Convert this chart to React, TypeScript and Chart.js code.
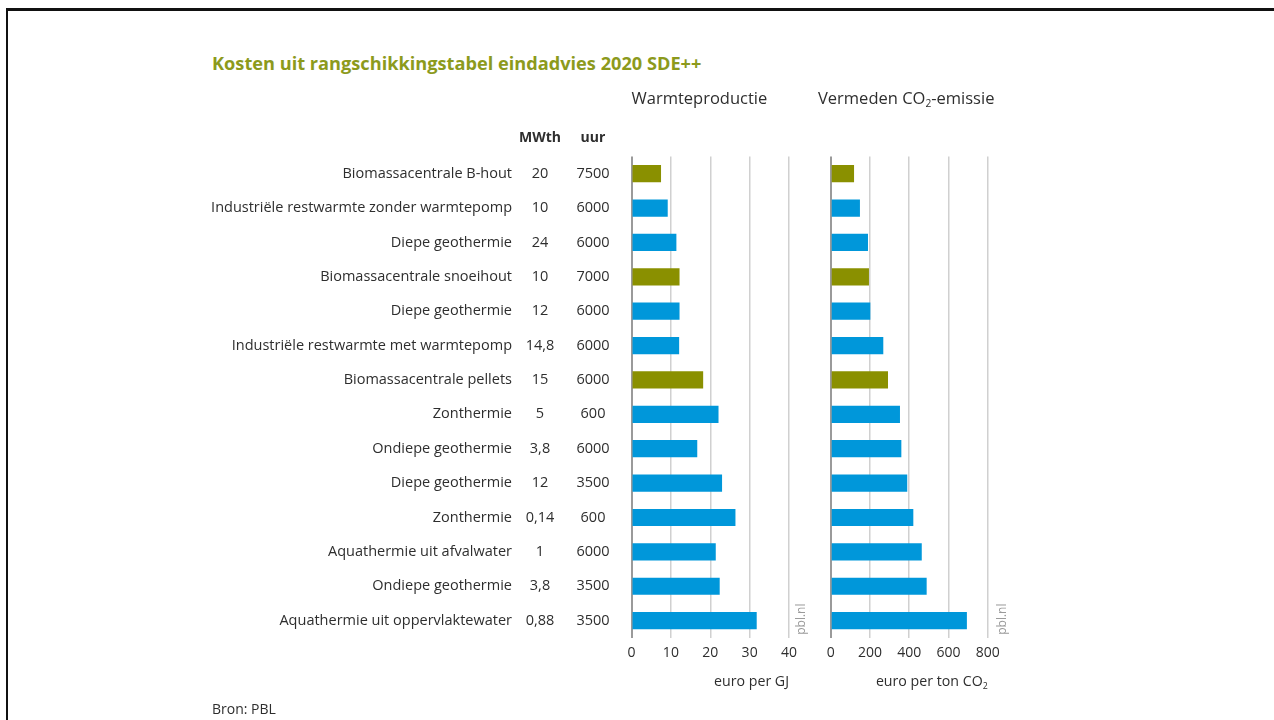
import React, { useEffect, useRef } from "react";
import { Chart, registerables } from "chart.js";
Chart.register(...registerables);

const FONT = "'Open Sans', sans-serif";
const TEXT = "#2e2e2e";
const BLUE = "#0097da";
const OLIVE = "#8a9000";

const categories = [
  "Biomassacentrale B-hout",
  "Industriële restwarmte zonder warmtepomp",
  "Diepe geothermie",
  "Biomassacentrale snoeihout",
  "Diepe geothermie",
  "Industriële restwarmte met warmtepomp",
  "Biomassacentrale pellets",
  "Zonthermie",
  "Ondiepe geothermie",
  "Diepe geothermie",
  "Zonthermie",
  "Aquathermie uit afvalwater",
  "Ondiepe geothermie",
  "Aquathermie uit oppervlaktewater",
];
const mwth = ["20", "10", "24", "10", "12", "14,8", "15", "5", "3,8", "12", "0,14", "1", "3,8", "0,88"];
const uur = ["7500", "6000", "6000", "7000", "6000", "6000", "6000", "600", "6000", "3500", "600", "6000", "3500", "3500"];
const biomassa = [true, false, false, true, false, false, true, false, false, false, false, false, false, false];
const warmteKosten = [7.5, 9.2, 11.4, 12.2, 12.2, 12.1, 18.2, 22.1, 16.7, 23.0, 26.4, 21.4, 22.4, 31.8];
const co2Kosten = [119, 149, 190, 195, 202, 268, 292, 353, 360, 390, 421, 464, 489, 694];
const warmteTicks = { max: 40, step: 10 };
const co2Ticks = { max: 800, step: 200 };

type Part = { text: string; sub?: boolean };

function drawRich(ctx: CanvasRenderingContext2D, parts: Part[], x: number, y: number, size: number, align: "left" | "right") {
  const widths = parts.map((p) => {
    ctx.font = `${p.sub ? size * 0.62 : size}px ${FONT}`;
    return ctx.measureText(p.text).width;
  });
  const total = widths.reduce((a, b) => a + b, 0);
  let cx = align === "left" ? x : x - total;
  ctx.textAlign = "left";
  ctx.textBaseline = "middle";
  parts.forEach((p, i) => {
    ctx.font = `${p.sub ? size * 0.62 : size}px ${FONT}`;
    ctx.fillText(p.text, cx, p.sub ? y + size * 0.3 : y);
    cx += widths[i];
  });
}

function makePlugin(opts: {
  header: Part[];
  headerDx: number;
  axisTitle: Part[];
  pblDx: number;
  table: boolean;
}) {
  return {
    id: "decor",
    afterDraw(chart: any) {
      const ctx: CanvasRenderingContext2D = chart.ctx;
      const area = chart.chartArea;
      const ys = chart.scales.y;
      ctx.save();
      ctx.fillStyle = TEXT;
      drawRich(ctx, opts.header, area.left + opts.headerDx, area.top - 57.5, 16.5, "left");
      drawRich(ctx, opts.axisTitle, area.right, area.bottom + 44.5, 14.2, "right");
      if (opts.table) {
        ctx.textBaseline = "middle";
        ctx.font = `bold 14px ${FONT}`;
        ctx.textAlign = "center";
        ctx.fillText("MWth", area.left - 91.5, area.top - 18.5);
        ctx.fillText("uur", area.left - 38.5, area.top - 18.5);
        ctx.font = `14.5px ${FONT}`;
        categories.forEach((c, i) => {
          const y = ys.getPixelForValue(i);
          ctx.textAlign = "right";
          ctx.fillText(c, area.left - 119.5, y);
          ctx.textAlign = "center";
          ctx.fillText(mwth[i], area.left - 91.5, y);
          ctx.fillText(uur[i], area.left - 38.5, y);
        });
      }
      ctx.translate(area.right + opts.pblDx, area.bottom - 3);
      ctx.rotate(-Math.PI / 2);
      ctx.fillStyle = "#9a9a9a";
      ctx.font = `12px ${FONT}`;
      ctx.textAlign = "left";
      ctx.textBaseline = "middle";
      ctx.fillText("pbl.nl", 0, 0);
      ctx.restore();
    },
  };
}

function makeConfig(values: number[], ticks: { max: number; step: number }, padLeft: number, padRight: number, plugin: any): any {
  return {
    type: "bar",
    data: {
      labels: categories,
      datasets: [
        {
          data: values,
          backgroundColor: biomassa.map((b) => (b ? OLIVE : BLUE)),
          borderWidth: 0,
          barPercentage: 0.5,
          categoryPercentage: 1,
        },
      ],
    },
    options: {
      indexAxis: "y",
      animation: false,
      responsive: false,
      maintainAspectRatio: false,
      layout: { padding: { left: padLeft, right: padRight, top: 76.5, bottom: 0 } },
      plugins: { legend: { display: false }, tooltip: { enabled: false }, title: { display: false } },
      scales: {
        x: {
          min: 0,
          max: ticks.max,
          ticks: { stepSize: ticks.step, padding: 7, color: TEXT, font: { family: FONT, size: 14 } },
          grid: {
            drawTicks: false,
            color: (c: any) => (c.tick && c.tick.value === 0 ? "#9a9a9a" : "#d0d0d0"),
            lineWidth: (c: any) => (c.tick && c.tick.value === 0 ? 2 : 1.5),
          },
          border: { display: false },
          afterFit: (s: any) => {
            s.height = 62.2;
          },
        },
        y: { display: false },
      },
    },
    plugins: [plugin],
  };
}

function ChartCanvas(props: { config: () => any; left: number; width: number }) {
  const ref = useRef<HTMLCanvasElement>(null);
  useEffect(() => {
    const chart = new Chart(ref.current as HTMLCanvasElement, props.config());
    return () => chart.destroy();
  }, []);
  return (
    <canvas
      ref={ref}
      width={props.width}
      height={620}
      style={{ position: "absolute", left: props.left, top: 80, width: props.width, height: 620 }}
    />
  );
}

export default function App() {
  return (
    <div
      style={{
        position: "fixed",
        left: 0,
        top: 0,
        width: 1274,
        height: 720,
        overflow: "hidden",
        background: "#fff",
        fontFamily: FONT,
      }}
    >
      <div
        style={{
          position: "absolute",
          left: 6,
          top: 8,
          width: 1400,
          height: 900,
          borderLeft: "2.5px solid #111",
          borderTop: "3px solid #111",
        }}
      />
      <div
        style={{
          position: "absolute",
          left: 212,
          top: 51,
          fontSize: 18.2,
          lineHeight: "24px",
          fontWeight: 700,
          color: "#8c9a1c",
          whiteSpace: "nowrap",
        }}
      >
        Kosten uit rangschikkingstabel eindadvies 2020 SDE++
      </div>
      <ChartCanvas
        left={200}
        width={610}
        config={() =>
          makeConfig(
            warmteKosten,
            warmteTicks,
            431.5,
            21,
            makePlugin({
              header: [{ text: "Warmteproductie" }],
              headerDx: 0,
              axisTitle: [{ text: "euro per GJ" }],
              pblDx: 13,
              table: true,
            })
          )
        }
      />
      <ChartCanvas
        left={810}
        width={200}
        config={() =>
          makeConfig(
            co2Kosten,
            co2Ticks,
            20.7,
            22.3,
            makePlugin({
              header: [{ text: "Vermeden CO" }, { text: "2", sub: true }, { text: "-emissie" }],
              headerDx: -12.7,
              axisTitle: [{ text: "euro per ton CO" }, { text: "2", sub: true }],
              pblDx: 15,
              table: false,
            })
          )
        }
      />
      <div
        style={{
          position: "absolute",
          left: 212,
          top: 699,
          fontSize: 14,
          lineHeight: "20px",
          color: TEXT,
          whiteSpace: "nowrap",
        }}
      >
        Bron: PBL
      </div>
    </div>
  );
}
